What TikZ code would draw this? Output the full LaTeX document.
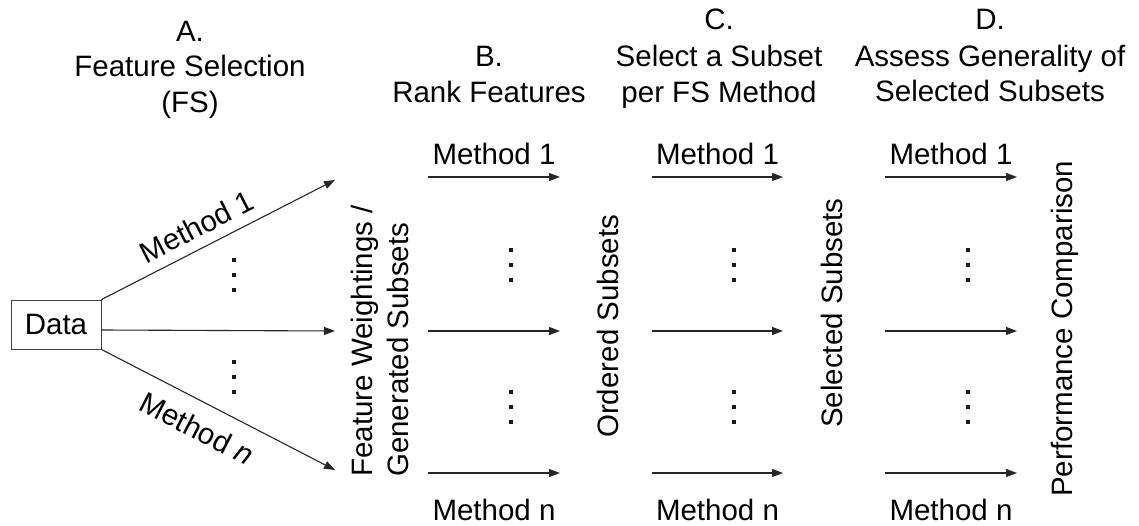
\documentclass[tikz,border=0pt]{standalone}
\usepackage{fontspec}
\setmainfont{Liberation Sans}
\usetikzlibrary{arrows.meta}
\begin{document}
\begin{tikzpicture}[x=1pt,y=-1pt,
  lbl/.style={font=\fontsize{29.5}{36}\selectfont, inner sep=0pt},
  vlabel/.style={lbl, rotate=90, anchor=west, align=left},
  flow/.style={line width=1.1pt, draw=black!85, -{Triangle[length=11pt,width=8pt]}},
  databox/.style={lbl, draw=black!75, line width=0.9pt, minimum width=90pt, minimum height=49pt},
  vdots/.pic={\foreach \k in {0,15,30} \fill[black!90] (-2,\k-2) rectangle (2,\k+2);}
]
\useasboundingbox[fill=white] (0,0) rectangle (1139,526);

% stage headings
\node[lbl, anchor=base] (hA1) at (190,42)  {A.};
\node[lbl, anchor=base] (hA2) at (190,77)  {Feature Selection};
\node[lbl, anchor=base] (hA3) at (190,113) {(FS)};
\node[lbl, anchor=base] (hB1) at (489,67)  {B.};
\node[lbl, anchor=base] (hB2) at (489,103) {Rank Features};
\node[lbl, anchor=base] (hC1) at (719,30)  {C.};
\node[lbl, anchor=base] (hC2) at (719,67)  {Select a Subset};
\node[lbl, anchor=base] (hC3) at (719,103) {per FS Method};
\node[lbl, anchor=base] (hD1) at (990,30)  {D.};
\node[lbl, anchor=base] (hD2) at (990,67)  {Assess Generality of};
\node[lbl, anchor=base] (hD3) at (990,102) {Selected Subsets};

% input data
\node[databox] (data) at (56,324.5) {Data};

% fan-out of the feature selection methods
\coordinate (tA1) at (335,180);
\coordinate (tA2) at (335,331);
\coordinate (tAn) at (335,470);
\draw[flow] (data.north east) -- node[lbl, sloped, above=10pt, pos=0.45] (mA1) {Method 1} (tA1);
\draw[flow] ([yshift=-5.5pt]data.east) -- (tA2);
\draw[flow] (data.south east) -- node[lbl, sloped, below=15pt, pos=0.46] (mAn) {Method \textit{n}} (tAn);
\pic at (234,260) {vdots};
\pic at (234,362) {vdots};

% intermediate results
\node[vlabel] (fw) at (380,477) {Feature Weightings /\\Generated Subsets};
\node[vlabel] (os) at (608,438) {Ordered Subsets};
\node[vlabel] (ss) at (832,428) {Selected Subsets};
\node[vlabel] (pc) at (1065,497) {Performance Comparison};

% per-method arrows of stages B, C and D
\foreach \col/\xs/\xe/\xd in {B/428/560/511, C/652/783/734, D/885/1017/968} {
  \coordinate (\col s1) at (\xs,177);
  \coordinate (\col e1) at (\xe,177);
  \coordinate (\col s2) at (\xs,331);
  \coordinate (\col e2) at (\xe,331);
  \coordinate (\col s3) at (\xs,473);
  \coordinate (\col e3) at (\xe,473);
  \draw[flow] (\col s1) -- (\col e1);
  \draw[flow] (\col s2) -- (\col e2);
  \draw[flow] (\col s3) -- (\col e3);
  \node[lbl, anchor=base] (\col m1) at ({(\xs+\xe)/2},165) {Method 1};
  \node[lbl, anchor=base] (\col mn) at ({(\xs+\xe)/2},520) {Method n};
  \pic at (\xd,250) {vdots};
  \pic at (\xd,392) {vdots};
}
\end{tikzpicture}
\end{document}
